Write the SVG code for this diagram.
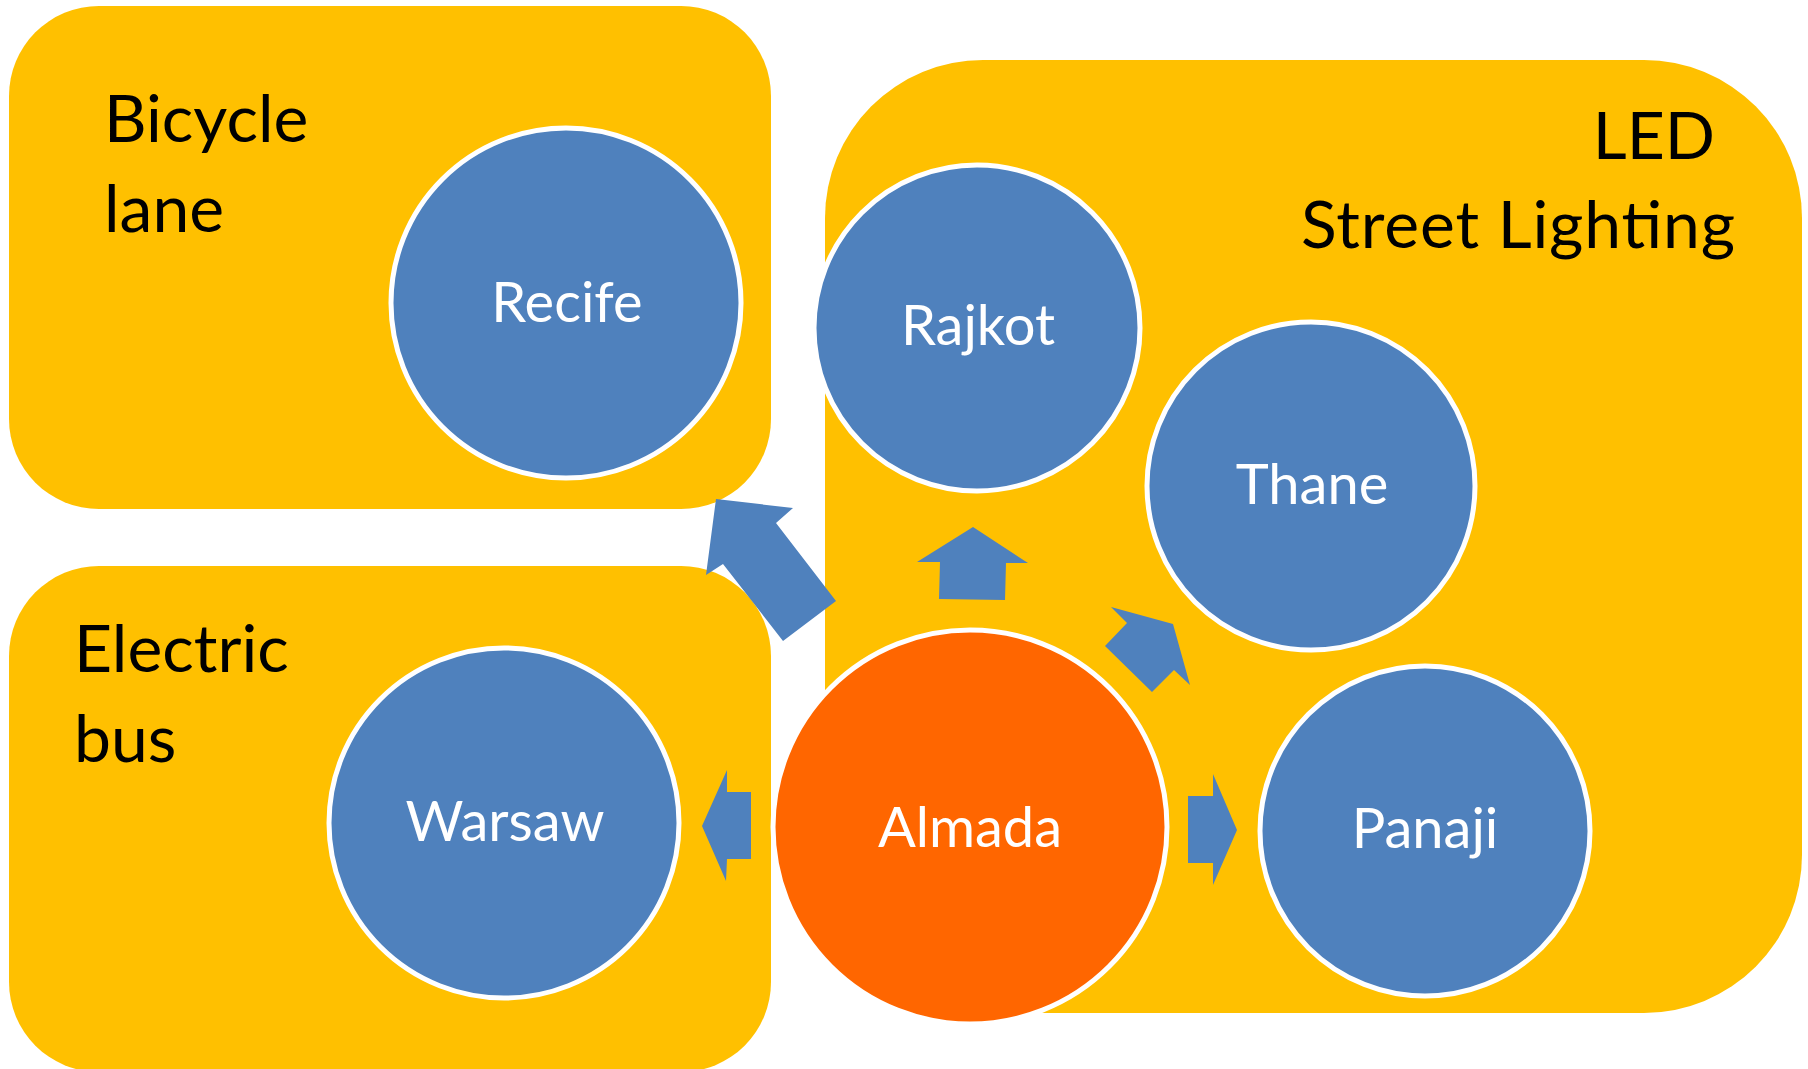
<svg xmlns="http://www.w3.org/2000/svg" width="1808" height="1069" viewBox="0 0 1808 1069">
  <style>
    .box { fill: #FFC000; }
    .node { fill: #4F81BD; stroke: #FFFFFF; stroke-width: 5; }
    .hub { fill: #FF6600; stroke: #FFFFFF; stroke-width: 5; }
    .arrow { fill: #4F81BD; }
    .label { font-family: Lato, "Open Sans", "Liberation Sans", sans-serif; font-size: 66px; fill: #000000; }
    .ntext { font-family: Lato, "Open Sans", "Liberation Sans", sans-serif; font-size: 56px; fill: #FFFFFF; text-anchor: middle; }
  </style>
  <rect width="1808" height="1069" fill="#FFFFFF"/>

  <g id="group-bicycle-lane">
    <rect class="box" x="9" y="6" width="762" height="503" rx="90" ry="90"/>
    <text class="label" x="104" y="142">Bicycle</text>
    <text class="label" x="104" y="232">lane</text>
  </g>

  <g id="group-electric-bus">
    <rect class="box" x="9" y="566" width="762" height="506" rx="90" ry="90"/>
    <text class="label" x="74" y="672">Electric</text>
    <text class="label" x="74" y="762">bus</text>
  </g>

  <g id="group-led">
    <rect class="box" x="825" y="60" width="977" height="953" rx="158" ry="158"/>
    <text class="label" x="1715" y="159" text-anchor="end">LED</text>
    <text class="label" x="1735" y="248" text-anchor="end" textLength="434" lengthAdjust="spacing">Street Lighting</text>
  </g>

  <g id="node-recife">
    <circle class="node" cx="566" cy="303" r="175"/>
    <text class="ntext" x="567" y="322">Recife</text>
  </g>

  <g id="node-warsaw">
    <circle class="node" cx="504" cy="823" r="175"/>
    <text class="ntext" x="505" y="841">Warsaw</text>
  </g>

  <g id="node-rajkot">
    <circle class="node" cx="977" cy="328" r="163"/>
    <text class="ntext" x="978" y="345">Rajkot</text>
  </g>

  <g id="node-thane">
    <circle class="node" cx="1311" cy="486" r="164"/>
    <text class="ntext" x="1312" y="504">Thane</text>
  </g>

  <g id="node-panaji">
    <circle class="node" cx="1425" cy="831" r="165"/>
    <text class="ntext" x="1425" y="848">Panaji</text>
  </g>

  <g id="node-almada">
    <circle class="hub" cx="970" cy="827" r="197"/>
    <text class="ntext" x="970" y="847">Almada</text>
  </g>

  <g id="connectors">
    <polygon class="arrow" points="716,499 793,508 776,523 836,601 783,641 723,564 706,575"/>
    <polygon class="arrow" points="973,527 1028,563 1006,563 1005,600 939,599 940,562 917,562"/>
    <polygon class="arrow" points="1111,607 1173,624 1190,685 1174,670 1152,692 1105,646 1127,623"/>
    <polygon class="arrow" points="1188,796 1213,796 1213,774 1237,830 1213,885 1213,863 1188,863"/>
    <polygon class="arrow" points="751,792 727,792 727,770 702,826 726,881 727,859 751,859"/>
  </g>
</svg>
